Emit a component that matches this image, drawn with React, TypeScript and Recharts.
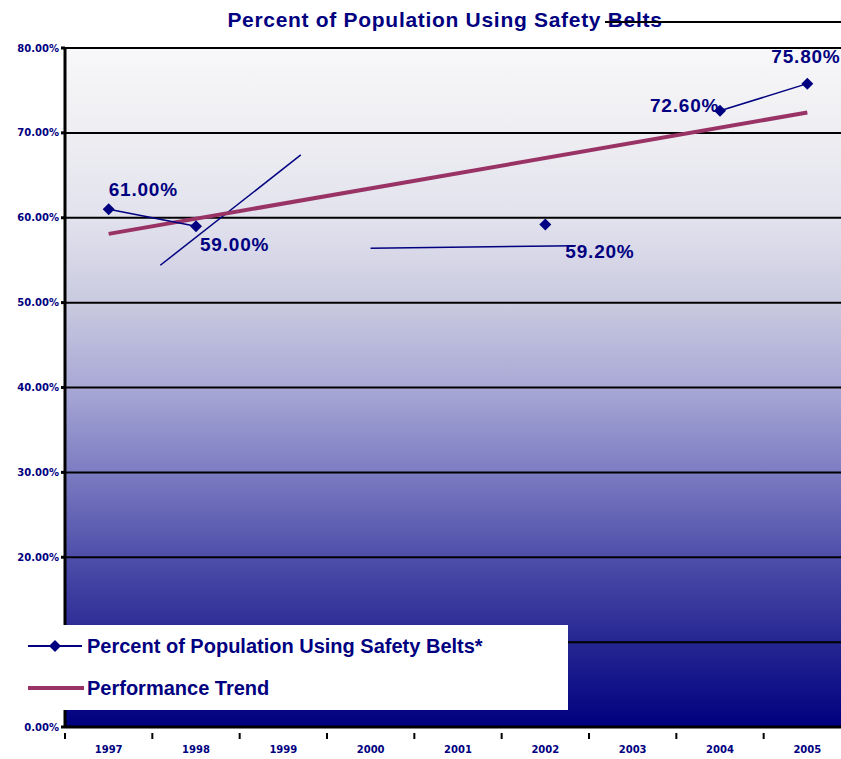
import {
  ComposedChart, Line, XAxis, YAxis, CartesianGrid, LabelList, ReferenceLine,
} from "recharts";

const YEARS = ["1997", "1998", "1999", "2000", "2001", "2002", "2003", "2004", "2005"];
const BELT_USE = [61.0, 59.0, null, null, null, 59.2, null, 72.6, 75.8];
const TREND = [58.1, null, null, null, null, null, null, null, 72.4];
const Y_TICKS = [0, 10, 20, 30, 40, 50, 60, 70, 80];

// stray drawn lines from the original sheet (x on a 0-8 helper axis, y in %)
const STRAY_LINES = [
  [{ x: 0.97, y: 54.4 }, { x: 2.4, y: 67.4 }],
  [{ x: 3.11, y: 56.4 }, { x: 5.2, y: 56.7 }],
];

const NAVY = "#000080";
const MAROON = "#993366";

const data = YEARS.map((year, i) => ({
  year,
  belts: BELT_USE[i],
  trend: TREND[i],
}));

// label offsets relative to the point, per year
const LABEL_OFFSET: Record<number, [number, number]> = {
  0: [0, -18],
  1: [4, 20],
  5: [20, 28],
  7: [-70, -4],
  8: [-36, -26],
};

const Diamond = (props: any) => {
  const { cx, cy, value } = props;
  if (value == null || cx == null) return null;
  return (
    <polygon
      points={`${cx},${cy - 6} ${cx + 6},${cy} ${cx},${cy + 6} ${cx - 6},${cy}`}
      fill={NAVY}
    />
  );
};

const PointLabel = (props: any) => {
  const { x, y, value, index } = props;
  if (value == null) return null;
  const [dx, dy] = LABEL_OFFSET[index] ?? [0, -12];
  return (
    <text
      x={x + dx}
      y={y + dy}
      fill={NAVY}
      fontSize={19}
      letterSpacing={0.8}
      fontWeight="bold"
      fontFamily="Arial, 'Liberation Sans', sans-serif"
      textAnchor="start"
      dominantBaseline="middle"
    >
      {`${Number(value).toFixed(2)}%`}
    </text>
  );
};

const YearTick = (props: any) => {
  const { x, y, payload } = props;
  const band = 786 / 9;
  return (
    <g>
      <line x1={x - band / 2} y1={y - 2} x2={x - band / 2} y2={y + 4} stroke="#000" strokeWidth={2} />
      <text
        x={x}
        y={y + 18}
        fill={NAVY}
        fontSize={10}
        fontWeight="bold"
        fontFamily="'DejaVu Sans', sans-serif"
        textAnchor="middle"
      >
        {payload.value}
      </text>
    </g>
  );
};

const LegendBox = () => (
  <div
    style={{
      position: "absolute",
      left: 0,
      top: 625,
      background: "#fff",
      width: 568,
      height: 85,
      fontFamily: "Arial, 'Liberation Sans', sans-serif",
      fontWeight: "bold",
      fontSize: 20,
      color: NAVY,
    }}
  >
    <div style={{ display: "flex", alignItems: "center", height: 42 }}>
      <svg width={87} height={20}>
        <line x1={28} y1={10} x2={82} y2={10} stroke={NAVY} strokeWidth={2} />
        <polygon points="55,4 61,10 55,16 49,10" fill={NAVY} />
      </svg>
      <span>Percent of Population Using Safety Belts*</span>
    </div>
    <div style={{ display: "flex", alignItems: "center", height: 42 }}>
      <svg width={87} height={20}>
        <line x1={28} y1={10} x2={84} y2={10} stroke={MAROON} strokeWidth={4} />
      </svg>
      <span>Performance Trend</span>
    </div>
  </div>
);

export default function App() {
  return (
    <div style={{ position: "absolute", left: 0, top: 0, width: 841, height: 759, overflow: "hidden", background: "#fff" }}>
      <div
        style={{
          position: "absolute",
          left: 0,
          top: 8,
          width: 890,
          textAlign: "center",
          fontFamily: "Arial, 'Liberation Sans', sans-serif",
          fontWeight: 900,
          fontSize: 21,
          letterSpacing: 0.7,
          color: NAVY,
        }}
      >
        Percent of Population Using Safety Belts
      </div>
      <div style={{ position: "absolute", left: 605, top: 21, width: 236, height: 2, background: "#000" }} />
      <ComposedChart
        width={851}
        height={759}
        data={data}
        margin={{ top: 48, right: 0, left: 0, bottom: 0 }}
      >
        <defs>
          <linearGradient id="bgFill" x1="0" y1="0" x2="0" y2="1">
            <stop offset="0" stopColor="#f8f8fa" />
            <stop offset="0.125" stopColor="#eeeef2" />
            <stop offset="0.25" stopColor="#e2e2ee" />
            <stop offset="0.375" stopColor="#cacae0" />
            <stop offset="0.5" stopColor="#a8a8d6" />
            <stop offset="0.625" stopColor="#7c7cc2" />
            <stop offset="0.75" stopColor="#4e4eaa" />
            <stop offset="0.875" stopColor="#262692" />
            <stop offset="1" stopColor="#000080" />
          </linearGradient>
        </defs>
        <CartesianGrid
          fill="url(#bgFill)"
          fillOpacity={1}
          vertical={false}
          stroke="#000"
          strokeWidth={2}
        />
        <XAxis
          dataKey="year"
          scale="band"
          height={32}
          axisLine={{ stroke: "#000", strokeWidth: 3 }}
          tickLine={false}
          tick={<YearTick />}
          interval={0}
        />
        <XAxis xAxisId="n" type="number" domain={[0, 9]} allowDataOverflow hide />
        <YAxis
          width={65}
          domain={[0, 80]}
          ticks={Y_TICKS}
          interval={0}
          axisLine={{ stroke: "#000", strokeWidth: 3 }}
          tickLine={{ stroke: "#000", strokeWidth: 3 }}
          tickSize={4}
          tick={{ fill: NAVY, fontSize: 10, fontWeight: "bold", fontFamily: "'DejaVu Sans', sans-serif" }}
          tickFormatter={(v: number) => `${v.toFixed(2)}%`}
        />
        {STRAY_LINES.map((seg, i) => (
          <ReferenceLine key={i} xAxisId="n" segment={seg} stroke={NAVY} strokeWidth={1.5} ifOverflow="visible" />
        ))}
        <Line
          dataKey="trend"
          name="Performance Trend"
          stroke={MAROON}
          strokeWidth={4}
          dot={false}
          connectNulls
          isAnimationActive={false}
        />
        <Line
          dataKey="belts"
          name="Percent of Population Using Safety Belts*"
          stroke={NAVY}
          strokeWidth={1.5}
          dot={<Diamond />}
          activeDot={false}
          isAnimationActive={false}
        >
          <LabelList dataKey="belts" content={<PointLabel />} />
        </Line>
      </ComposedChart>
      <LegendBox />
    </div>
  );
}
